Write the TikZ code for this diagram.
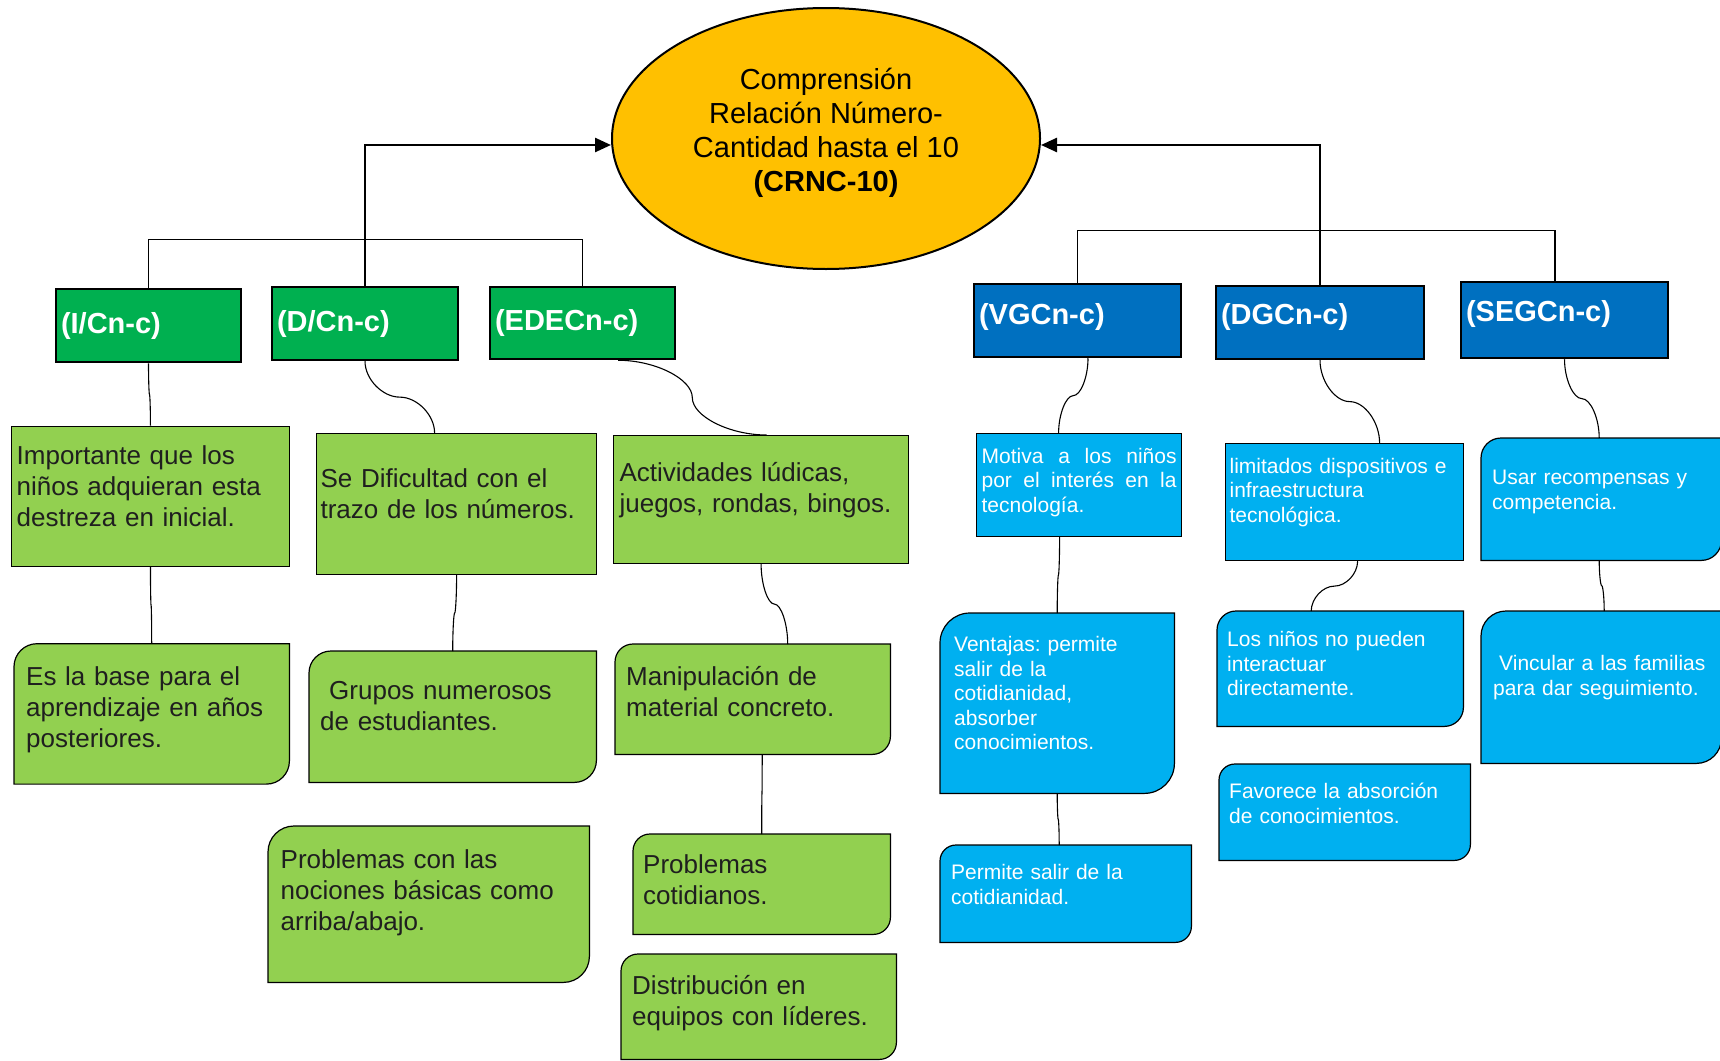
\documentclass[tikz,border=0pt]{standalone}
\usepackage{fontspec}
\setmainfont{Liberation Sans}
\usetikzlibrary{shapes.geometric,arrows.meta,calc,backgrounds}
\definecolor{amarillo}{HTML}{FFC000}
\definecolor{verdeosc}{HTML}{00B050}
\definecolor{verdecla}{HTML}{92D050}
\definecolor{azulosc}{HTML}{0070C0}
\definecolor{azulcla}{HTML}{00B0F0}

\begin{document}
\frenchspacing
\begin{tikzpicture}[x=1pt,y=1pt]
\tikzstyle{raiz} = [ellipse, draw, line width=2pt, fill=amarillo, minimum width=428pt, minimum height=261pt, inner sep=0pt]
\tikzstyle{cab} = [rectangle, draw, line width=2.5pt, text=white, font=\fontsize{29}{34}\selectfont\bfseries, inner xsep=5pt, inner ysep=0pt, align=left]
\tikzstyle{verdec} = [cab, fill=verdeosc]
\tikzstyle{azulc} = [cab, fill=azulosc, text height=21pt]
\tikzstyle{gtxt} = [rectangle, text=black!88, font=\fontsize{26}{31}\selectfont]
\tikzstyle{gsq} = [gtxt, draw, line width=1.2pt, fill=verdecla]
\tikzstyle{btxt} = [rectangle, text=white, font=\fontsize{21}{24.5}\selectfont]
\tikzstyle{bsq} = [btxt, draw, line width=1.2pt, fill=azulcla]
\tikzstyle{con} = [line width=1.1pt]
\tikzstyle{flecha} = [line width=2.5pt, -{Triangle[length=16pt,width=14pt]}]
\tikzset{
  bx/.style n args={4}{anchor=north west, inner ysep=0pt, inner xsep=#1, text width=#2, text height=#3, text depth=#4, align=left},
  vcurve/.style={to path={let \p1=(\tikztostart), \p2=(\tikztotarget) in
    .. controls (\x1,{(3*\y1+\y2)/4}) and ({(3*\x1+\x2)/4},{(\y1+\y2)/2}) .. ({(\x1+\x2)/2},{(\y1+\y2)/2})
    .. controls ({(\x1+3*\x2)/4},{(\y1+\y2)/2}) and (\x2,{(\y1+3*\y2)/4}) .. (\p2)}},
  hcurve/.style={to path={let \p1=(\tikztostart), \p2=(\tikztotarget) in
    .. controls ({(3*\x1+\x2)/4},\y1) and ({(\x1+\x2)/2},{(3*\y1+\y2)/4}) .. ({(\x1+\x2)/2},{(\y1+\y2)/2})
    .. controls ({(\x1+\x2)/2},{(\y1+3*\y2)/4}) and ({(\x1+3*\x2)/4},\y2) .. (\p2)}}
}
\useasboundingbox (0,0) rectangle (1720,-1060);

\node[raiz, label={[font=\fontsize{29}{34}\selectfont, align=center, yshift=6pt]center:{Comprensión\\Relación Número-\\Cantidad hasta el 10\\\textbf{(CRNC-10)}}}] (root) at (826,-138.5) {};

\node[verdec, text width=175pt, minimum height=73pt] (icn) at (148.5,-325.5) {(I/Cn-c)};
\node[verdec, text width=176pt, minimum height=73pt] (dcn) at (365,-323.5) {(D/Cn-c)};
\node[verdec, text width=175pt, minimum height=72pt] (edec) at (582.5,-323) {(EDECn-c)};
\node[azulc, text width=197pt, minimum height=73pt, text depth=13pt] (vgc) at (1077.5,-320.5) {(VGCn-c)};
\node[azulc, text width=198pt, minimum height=73pt, text depth=17pt] (dgc) at (1320,-322.5) {(DGCn-c)};
\node[azulc, text width=197pt, minimum height=76pt, text depth=19pt] (seg) at (1564.5,-320) {(SEGCn-c)};

\node[gsq, bx={5.5pt}{267.5pt}{38.5pt}{101.5pt}] (g1) at (10.6,-425.5) {Importante que los\\niños adquieran esta\\destreza en inicial.};
\node[gtxt, bx={12pt}{251pt}{42pt}{98pt}] (g2) at (14,-643.7) {Es la base para el\\aprendizaje en años\\posteriores.};
\node[gsq, bx={4pt}{272pt}{54pt}{87pt}] (d1) at (316,-433) {Se Dificultad con el\\trazo de los números.};
\node[gtxt, bx={11pt}{265pt}{48pt}{83pt}] (d2) at (309,-651) {\hspace*{9pt}Grupos numerosos\\de estudiantes.};
\node[gtxt, bx={12.5pt}{296pt}{42pt}{114pt}] (d3) at (268,-826) {Problemas con las\\nociones básicas como\\arriba/abajo.};
\node[gsq, bx={6pt}{283pt}{46pt}{82pt}] (e1) at (613,-435) {Actividades lúdicas,\\juegos, rondas, bingos.};
\node[gtxt, bx={11pt}{253pt}{41pt}{69pt}] (e2) at (615,-644) {Manipulación de\\material concreto.};
\node[gtxt, bx={10pt}{237pt}{39pt}{61pt}] (e3) at (633,-834) {Problemas\\cotidianos.};
\node[gtxt, bx={11pt}{253pt}{40pt}{65pt}] (e4) at (621,-954) {Distribución en\\equipos con líderes.};

\node[bsq, bx={5pt}{195pt}{29.5pt}{73.5pt}, align=justify] (v1) at (976,-433) {Motiva a los niños\linebreak por el interés en la\linebreak tecnología.};
\node[btxt, bx={14pt}{206pt}{38.5pt}{141.5pt}] (v2) at (940,-613) {Ventajas: permite\\salir de la\\cotidianidad,\\absorber\\conocimientos.};
\node[btxt, bx={11pt}{229pt}{34.5pt}{62.5pt}] (v3) at (940,-845) {Permite salir de la\\cotidianidad.};
\node[bsq, bx={4pt}{230pt}{29.5pt}{87.5pt}] (dg1) at (1225,-443) {limitados dispositivos e\\infraestructura\\tecnológica.};
\node[btxt, bx={10pt}{226pt}{35.5pt}{79.5pt}] (dg2) at (1217,-611) {Los niños no pueden\\interactuar\\directamente.};
\node[btxt, bx={10pt}{231pt}{34.5pt}{61.5pt}] (dg3) at (1219,-764) {Favorece la absorción\\de conocimientos.};
\node[btxt, bx={11pt}{218pt}{46.5pt}{75.5pt}] (s1) at (1481,-438) {Usar recompensas y\\competencia.};
\node[btxt, bx={12pt}{216pt}{59.5pt}{92.5pt}] (s2) at (1481,-611) {\hspace*{6pt}Vincular a las familias\\para dar seguimiento.};

\begin{pgfonlayer}{background}
\foreach \n/\c/\r in {g2/verdecla/23, d2/verdecla/22, d3/verdecla/26, e2/verdecla/18, e3/verdecla/17, e4/verdecla/17, v2/azulcla/30, v3/azulcla/16, dg2/azulcla/19, dg3/azulcla/16, s1/azulcla/20, s2/azulcla/25}
  \draw[line width=1.2pt, fill=\c] (\n.south west) -- ([yshift=-\r]\n.north west) arc[start angle=180, end angle=90, radius=\r] -- (\n.north east) -- ([yshift=\r]\n.south east) arc[start angle=0, end angle=-90, radius=\r] -- cycle;
\end{pgfonlayer}

\draw[con] (icn.north) -- ++(0,48) -| (edec.north);
\draw[con] (vgc.north) -- ++(0,52.5) -| ([xshift=-9.5pt]seg.north);
\draw[flecha] (dcn.north) |- ([yshift=-6.5pt]root.west);
\draw[flecha] (dgc.north) |- ([yshift=-6.5pt]root.east);

\draw[con] (icn.south) to[vcurve] (g1.north);
\draw[con] (g1.south) to[vcurve] (g2.north);
\draw[con] (dcn.south) to[vcurve] ([xshift=-22pt]d1.north);
\draw[con] (d1.south) to[vcurve] (d2.north);
\draw[con] ([xshift=35.5pt]edec.south) to[hcurve] ([xshift=5.5pt]e1.north);
\draw[con] (e1.south) to[vcurve] ([xshift=35pt]e2.north);
\draw[con] ([xshift=9.5pt]e2.south) to[vcurve] (e3.north);
\draw[con] ([xshift=10.5pt]vgc.south) to[vcurve] ([xshift=-20.5pt]v1.north);
\draw[con] ([xshift=-19.5pt]v1.south) to[vcurve] (v2.north);
\draw[con] (v2.south) to[vcurve] ([xshift=-6.5pt]v3.north);
\draw[con] (dgc.south) to[vcurve] ([xshift=35pt]dg1.north);
\draw[con] ([xshift=13pt]dg1.south) to[vcurve] ([xshift=-29pt]dg2.north);
\draw[con] (seg.south) to[vcurve] ([xshift=-2pt]s1.north);
\draw[con] ([xshift=-2pt]s1.south) to[vcurve] ([xshift=3pt]s2.north);
\end{tikzpicture}
\end{document}
